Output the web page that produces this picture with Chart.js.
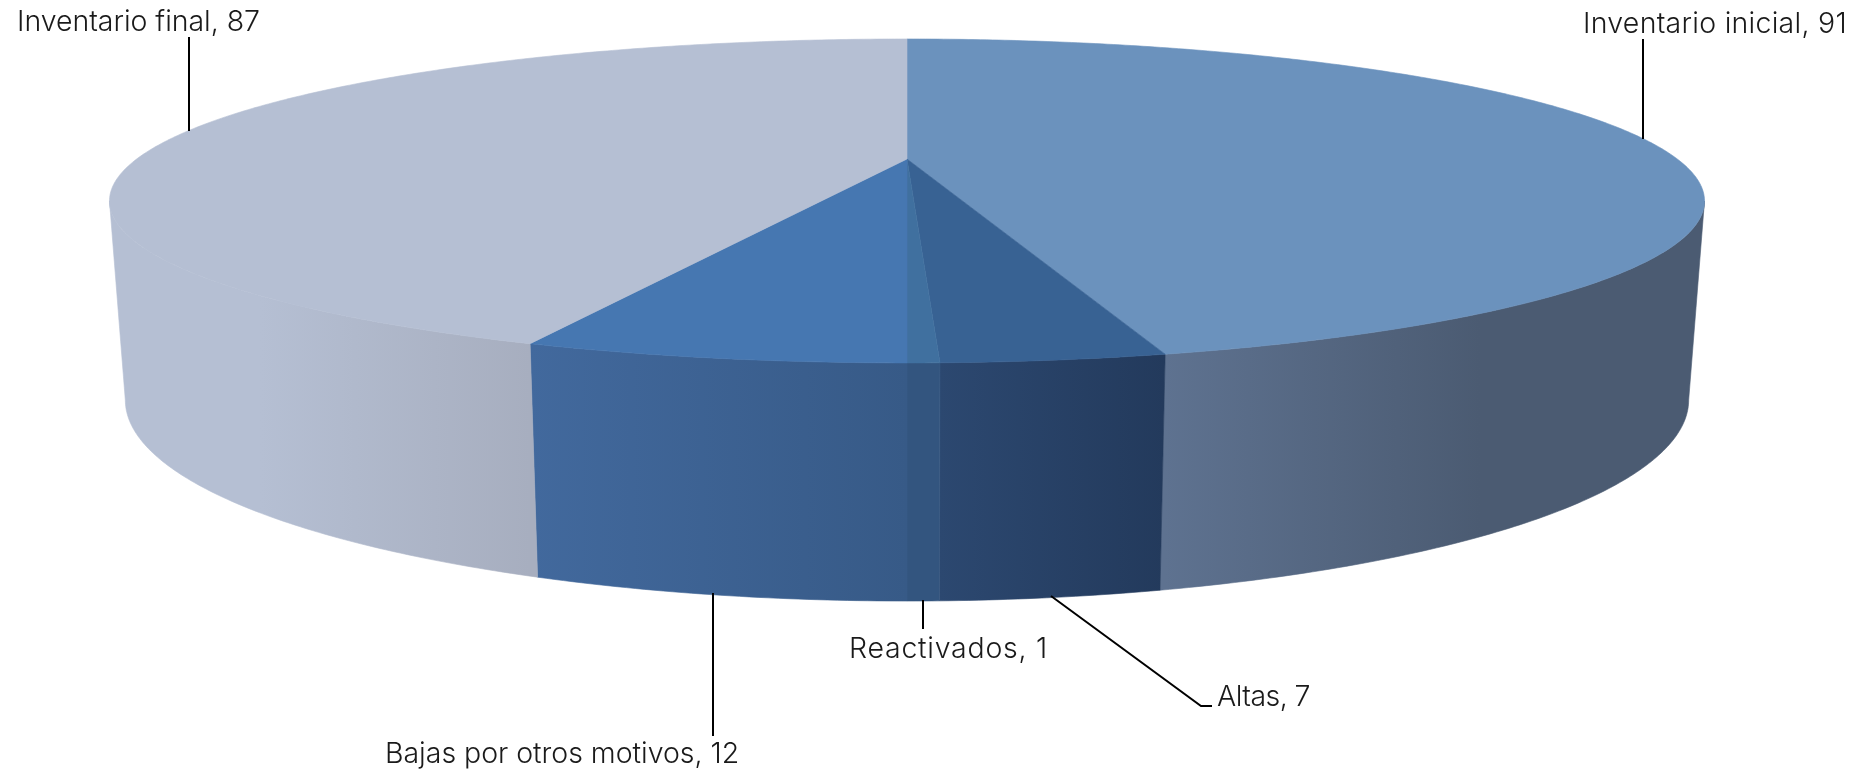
<!DOCTYPE html>
<html>
<head>
<meta charset="utf-8">
<title>Inventario</title>
<script src="https://cdn.jsdelivr.net/npm/chart.js@4/dist/chart.umd.js"></script>
<style>
  html, body { margin: 0; padding: 0; background: #fff; overflow: hidden; }
  canvas { display: block; }
</style>
</head>
<body>
<canvas id="myChart" width="1857" height="771"></canvas>
<script>
// Datos
const categories = ['Inventario inicial', 'Altas', 'Reactivados', 'Bajas por otros motivos', 'Inventario final'];
const values = [91, 7, 1, 12, 87];

// Colores de cada rebanada
const topColors = ['#6b92bd', '#386293', '#40709f', '#4677b1', '#b5bfd3'];
const wallFrom = ['#5e7290', '#2c4870', '#33557f', '#42699d', '#b5bfd3'];
const wallTo = ['#4b5b72', '#233a5c', '#33557f', '#375a87', '#a7aebf'];
const wallStops = [[1165, 1480], [939, 1165], [907, 939], [530, 907], [260, 530]];

// Etiquetas: caja de texto y línea guía, en orden de categories
const labelBoxes = [
    { x: 1583, y: 33, width: 264, line: [[1643, 39], [1643, 139]] },
    { x: 1217, y: 706, width: 93, line: [[1051, 596], [1201, 706], [1212, 706]] },
    { x: 849, y: 658, width: 199, line: [[923, 600], [923, 629]] },
    { x: 385, y: 763, width: 354, line: [[713, 593], [713, 736]] },
    { x: 17, y: 31, width: 243, line: [[189, 37], [189, 131]] }
];

// Perspectiva del disco: cara superior y cara inferior
const discTop = { x: 907, y: 159, a: 770.3, b: 151.1 };
const discBottom = { x: 907, y: 348, a: 755, b: 187.5 };
const tilt = 0.259;

function project(face, angle) {
    const w = 1 - tilt * Math.sin(angle);
    return {
        x: face.x + face.a * Math.cos(angle) / w,
        y: face.y + face.b * Math.sin(angle) / w
    };
}

function arcPoints(face, from, to) {
    const steps = Math.max(2, Math.ceil(Math.abs(to - from) / 0.01));
    const pts = [];
    for (let i = 0; i <= steps; i++) {
        pts.push(project(face, from + (to - from) * i / steps));
    }
    return pts;
}

function tracePath(ctx, pts) {
    ctx.beginPath();
    pts.forEach((p, i) => i ? ctx.lineTo(p.x, p.y) : ctx.moveTo(p.x, p.y));
    ctx.closePath();
}

// Pastel 3D: los ángulos salen de los arcos que calcula Chart.js
class Pie3DController extends Chart.PieController {
    draw() {
        const ctx = this.chart.ctx;
        const arcs = this._cachedMeta.data;
        const minAngle = Math.asin(tilt);
        const maxAngle = Math.PI - minAngle;

        ctx.save();
        arcs.forEach((arc, i) => {
            const from = Math.max(arc.startAngle, minAngle);
            const to = Math.min(arc.endAngle, maxAngle);
            if (to <= from) return;
            const grad = ctx.createLinearGradient(wallStops[i][0], 0, wallStops[i][1], 0);
            grad.addColorStop(0, wallFrom[i]);
            grad.addColorStop(1, wallTo[i]);
            tracePath(ctx, arcPoints(discTop, from, to).concat(arcPoints(discBottom, to, from)));
            ctx.fillStyle = grad;
            ctx.strokeStyle = grad;
            ctx.lineWidth = 0.6;
            ctx.fill();
            ctx.stroke();
        });

        arcs.forEach((arc, i) => {
            const pts = arcPoints(discTop, arc.startAngle, arc.endAngle);
            pts.unshift({ x: discTop.x, y: discTop.y });
            tracePath(ctx, pts);
            ctx.fillStyle = topColors[i];
            ctx.strokeStyle = topColors[i];
            ctx.lineWidth = 0.6;
            ctx.fill();
            ctx.stroke();
        });
        ctx.restore();
    }
}
Pie3DController.id = 'pie3d';
Chart.register(Pie3DController);

const labelsPlugin = {
    id: 'sliceLabels',
    afterDraw(chart) {
        const ctx = chart.ctx;
        ctx.save();
        ctx.font = '300 28.5px Inter, "Open Sans", sans-serif';
        ctx.fillStyle = '#1a1a1a';
        ctx.textBaseline = 'alphabetic';
        categories.forEach((name, i) => {
            const box = labelBoxes[i];
            const text = `${name}, ${values[i]}`;
            ctx.letterSpacing = '0px';
            const natural = ctx.measureText(text).width;
            ctx.letterSpacing = ((box.width - natural) / text.length).toFixed(2) + 'px';
            ctx.fillText(text, box.x, box.y);

            ctx.beginPath();
            box.line.forEach((p, j) => j ? ctx.lineTo(p[0], p[1]) : ctx.moveTo(p[0], p[1]));
            ctx.strokeStyle = '#000';
            ctx.lineWidth = 2;
            ctx.stroke();
        });
        ctx.restore();
    }
};

new Chart(document.getElementById('myChart').getContext('2d'), {
    type: 'pie3d',
    data: {
        labels: categories,
        datasets: [{ data: values, backgroundColor: topColors, borderWidth: 0 }]
    },
    options: {
        responsive: false,
        animation: false,
        devicePixelRatio: 1,
        plugins: {
            legend: { display: false },
            tooltip: { enabled: false }
        }
    },
    plugins: [labelsPlugin]
});
</script>
</body>
</html>
